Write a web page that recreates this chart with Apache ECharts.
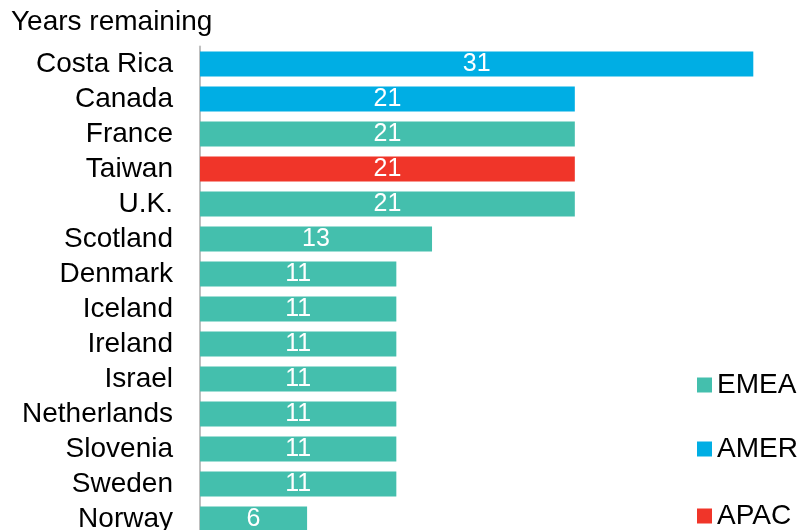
<!DOCTYPE html>
<html>
<head>
<meta charset="utf-8">
<script src="https://cdn.jsdelivr.net/npm/echarts@6/dist/echarts.min.js"></script>
<style>
  html, body { margin: 0; padding: 0; background: #fff; }
  #chart { width: 802px; height: 530px; }
</style>
</head>
<body>
<div id="chart"></div>
<script>
// Countries, top to bottom
const categories = ['Costa Rica', 'Canada', 'France', 'Taiwan', 'U.K.', 'Scotland', 'Denmark',
  'Iceland', 'Ireland', 'Israel', 'Netherlands', 'Slovenia', 'Sweden', 'Norway'];
// Years remaining per country
const years = [31, 21, 21, 21, 21, 13, 11, 11, 11, 11, 11, 11, 11, 6];
// Region of each country
const regions = ['AMER', 'AMER', 'EMEA', 'APAC', 'EMEA', 'EMEA', 'EMEA',
  'EMEA', 'EMEA', 'EMEA', 'EMEA', 'EMEA', 'EMEA', 'EMEA'];
// Legend order
const regionNames = ['EMEA', 'AMER', 'APAC'];
const regionColors = { EMEA: '#44BFAD', AMER: '#00AEE4', APAC: '#F03529' };

const FONT = '"Liberation Sans", Arial, sans-serif';

const series = regionNames.map(name => ({
  name: name,
  type: 'bar',
  stack: 'all',
  barWidth: 25,
  itemStyle: { color: regionColors[name] },
  label: {
    show: true,
    position: 'inside',
    color: '#fff',
    fontFamily: FONT,
    fontSize: 25
  },
  data: years.map((v, i) => regions[i] === name ? v : '-')
}));

// One legend block per region, stacked down the right side
const legendTops = [366, 430, 497];
const legends = regionNames.map((name, i) => ({
  orient: 'vertical',
  left: 692,
  top: legendTops[i],
  icon: 'rect',
  itemWidth: 15,
  itemHeight: 15,
  data: [name],
  textStyle: { fontFamily: FONT, fontSize: 28, color: '#000', lineHeight: 28 }
}));

const chart = echarts.init(document.getElementById('chart'));
chart.setOption({
  animation: false,
  title: {
    text: 'Years remaining',
    left: 6,
    top: 3,
    textStyle: { fontFamily: FONT, fontSize: 28, fontWeight: 'normal', color: '#000' }
  },
  legend: legends,
  // the last row runs past the bottom edge, so the grid is not clamped to the view
  grid: { left: 200, right: 13, top: 46.5, height: 490, containLabel: false, outerBoundsMode: 'none' },
  xAxis: {
    type: 'value',
    min: 0,
    max: 33,
    show: false
  },
  yAxis: {
    type: 'category',
    data: categories,
    inverse: true,
    offset: 1,
    axisTick: { show: false },
    axisLine: { show: true, lineStyle: { color: '#BFBFBF', width: 2 } },
    axisLabel: { interval: 0, margin: 26, color: '#000', fontFamily: FONT, fontSize: 28 }
  },
  series: series
});
</script>
</body>
</html>
